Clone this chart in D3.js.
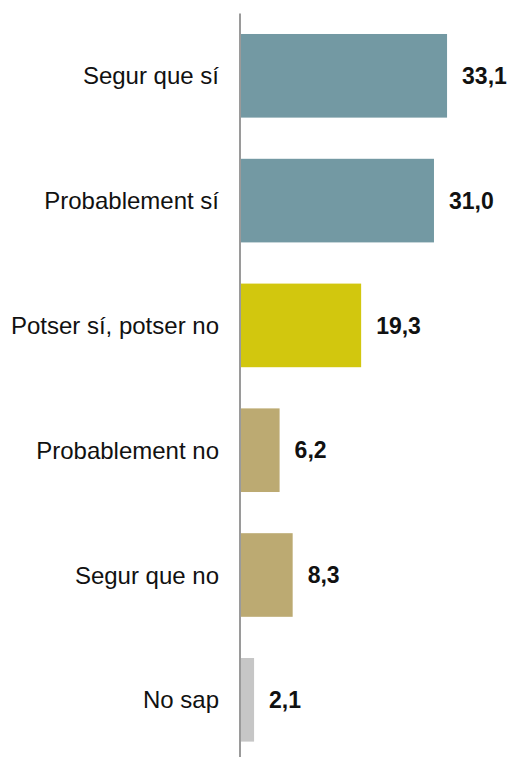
<!DOCTYPE html>
<html>
<head>
<meta charset="utf-8">
<script src="https://cdn.jsdelivr.net/npm/d3@7"></script>
<style>
  html, body { margin: 0; padding: 0; background: #fff; }
  svg { display: block; }
  .cat { font-family: "Liberation Sans", Arial, sans-serif; font-size: 24px; fill: #111; }
  .val { font-family: "Liberation Sans", Arial, sans-serif; font-size: 23px; font-weight: bold; fill: #111; }
</style>
</head>
<body>
<svg id="chart" width="512" height="757"></svg>
<script>
  // data
  const categories = ['Segur que sí', 'Probablement sí', 'Potser sí, potser no',
                      'Probablement no', 'Segur que no', 'No sap'];
  const values = [33.1, 31.0, 19.3, 6.2, 8.3, 2.1];
  const colors = ['#7399a3', '#7399a3', '#d2c70e', '#bcaa72', '#bcaa72', '#c6c6c6'];

  const W = 512, H = 757;
  const svg = d3.select('#chart');

  const y = d3.scaleBand()
    .domain(categories)
    .range([13.4, 762.2])
    .paddingInner(0.33)
    .paddingOuter(0.165);

  const x = d3.scaleLinear().domain([0, 40]).range([241, 490]);

  const fmt = v => d3.format('.1f')(v).replace('.', ',');

  const rows = categories.map((c, i) => ({ c, v: values[i], col: colors[i] }));

  svg.selectAll('rect.bar').data(rows).enter()
    .append('rect')
    .attr('class', 'bar')
    .attr('x', x(0))
    .attr('y', d => y(d.c))
    .attr('width', d => x(d.v) - x(0))
    .attr('height', y.bandwidth())
    .attr('fill', d => d.col);

  svg.selectAll('text.val').data(rows).enter()
    .append('text')
    .attr('class', 'val')
    .attr('x', d => x(d.v) + 15)
    .attr('y', d => y(d.c) + y.bandwidth() / 2)
    .attr('dy', '0.36em')
    .text(d => fmt(d.v));

  svg.selectAll('text.cat').data(rows).enter()
    .append('text')
    .attr('class', 'cat')
    .attr('x', 219)
    .attr('y', d => y(d.c) + y.bandwidth() / 2)
    .attr('dy', '0.36em')
    .attr('text-anchor', 'end')
    .text(d => d.c);

  // vertical axis line
  svg.append('line')
    .attr('x1', 240).attr('x2', 240)
    .attr('y1', y.range()[0]).attr('y2', H)
    .attr('stroke', '#9a9a9a')
    .attr('stroke-width', 2);
</script>
</body>
</html>
